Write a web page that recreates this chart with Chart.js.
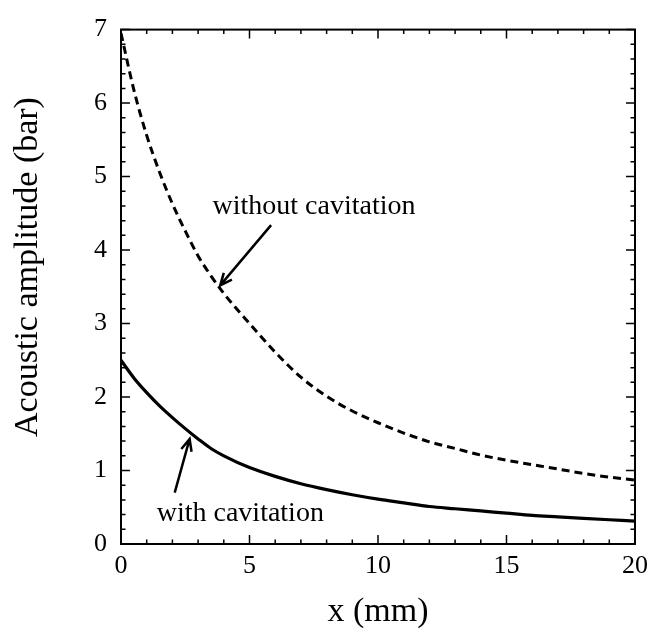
<!DOCTYPE html>
<html>
<head>
<meta charset="utf-8">
<script src="https://cdn.jsdelivr.net/npm/chart.js@4"></script>
<style>
	html, body { margin: 0; padding: 0; background: #fff; }
	#wrap { width: 655px; height: 632px; }
</style>
</head>
<body>
<div id="wrap"><canvas id="AmpChart" width="655" height="632"></canvas></div>
<script>
// x positions (mm)
var XPos = [0,0.5,1,1.5,2,2.5,3,3.5,4,5,6,7,8,9,10,11,12,13,14,15,16,17,18,19,20];
// acoustic amplitude (bar)
var WithoutCav = [6.95,6.18,5.56,5.06,4.63,4.26,3.92,3.65,3.41,3.0,2.61,2.27,2.01,1.81,1.65,1.51,1.39,1.3,1.21,1.14,1.08,1.02,0.96,0.91,0.87];
var WithCav = [2.5,2.26,2.06,1.88,1.72,1.57,1.43,1.3,1.2,1.04,0.92,0.82,0.74,0.67,0.61,0.56,0.51,0.48,0.45,0.42,0.39,0.37,0.35,0.33,0.31];

var XTicks = [0,5,10,15,20];
var YTicks = [0,1,2,3,4,5,6,7];

var SerifFont = "'Liberation Serif', 'Times New Roman', serif";

function toPoints(ys){
	var pts = [];
	for(let i=0; i<XPos.length; i++) pts.push({x: XPos[i], y: ys[i]});
	return pts;
}

function drawArrow(ctx, x1, y1, x2, y2){
	var ang = Math.atan2(y2-y1, x2-x1);
	var L = 13, a = 0.42;
	ctx.beginPath();
	ctx.moveTo(x1, y1); ctx.lineTo(x2, y2);
	ctx.moveTo(x2 - L*Math.cos(ang-a), y2 - L*Math.sin(ang-a));
	ctx.lineTo(x2, y2);
	ctx.lineTo(x2 - L*Math.cos(ang+a), y2 - L*Math.sin(ang+a));
	ctx.stroke();
}

// frame, inside ticks, labels, arrows
var decoPlugin = {
	id: 'deco',
	afterDraw(chart){
		var ctx = chart.ctx;
		var ca = chart.chartArea;
		var sx = chart.scales.x, sy = chart.scales.y;
		ctx.save();
		ctx.strokeStyle = '#000';
		ctx.lineWidth = 1.5;
		ctx.beginPath();
		for(let v=0; v<=20; v++){
			let px = sx.getPixelForValue(v);
			let L = (v % 5 == 0) ? 9 : 4.5;
			ctx.moveTo(px, ca.bottom); ctx.lineTo(px, ca.bottom - L);
			ctx.moveTo(px, ca.top); ctx.lineTo(px, ca.top + L);
		}
		for(let i=0; i<=35; i++){
			let py = sy.getPixelForValue(i*0.2);
			let L = (i % 5 == 0) ? 9 : 4.5;
			ctx.moveTo(ca.left, py); ctx.lineTo(ca.left + L, py);
			ctx.moveTo(ca.right, py); ctx.lineTo(ca.right - L, py);
		}
		ctx.stroke();
		ctx.lineWidth = 2;
		ctx.strokeRect(ca.left, ca.top, ca.right - ca.left, ca.bottom - ca.top);

		// annotations
		ctx.fillStyle = '#000';
		ctx.font = "28px " + SerifFont;
		ctx.textAlign = 'left';
		ctx.textBaseline = 'alphabetic';
		ctx.fillText('without cavitation', sx.getPixelForValue(3.56), sy.getPixelForValue(4.49));
		ctx.fillText('with cavitation', sx.getPixelForValue(1.39), sy.getPixelForValue(0.31));

		ctx.lineWidth = 2.5;
		drawArrow(ctx, sx.getPixelForValue(5.84), sy.getPixelForValue(4.34), sx.getPixelForValue(3.86), sy.getPixelForValue(3.52));
		drawArrow(ctx, sx.getPixelForValue(2.09), sy.getPixelForValue(0.70), sx.getPixelForValue(2.67), sy.getPixelForValue(1.43));

		// y axis title
		ctx.font = "34px " + SerifFont;
		ctx.textAlign = 'center';
		ctx.translate(37, 267);
		ctx.rotate(-Math.PI/2);
		ctx.fillText('Acoustic amplitude (bar)', 0, 0);
		ctx.restore();
	}
};

new Chart(document.getElementById('AmpChart'), {
	type: 'line',
	data: {
		datasets: [{
			label: 'without cavitation',
			data: toPoints(WithoutCav),
			borderColor: '#000',
			borderWidth: 3,
			borderDash: [8,5],
			pointRadius: 0,
			cubicInterpolationMode: 'monotone',
			fill: false
		},{
			label: 'with cavitation',
			data: toPoints(WithCav),
			borderColor: '#000',
			borderWidth: 3.2,
			pointRadius: 0,
			cubicInterpolationMode: 'monotone',
			fill: false
		}]
	},
	options: {
		responsive: false,
		animation: false,
		layout: { padding: { left: 0, right: 17, top: 26, bottom: 0 } },
		plugins: { legend: { display: false }, tooltip: { enabled: false } },
		scales: {
			x: {
				type: 'linear',
				min: 0, max: 20,
				afterBuildTicks: function(scale){ scale.ticks = XTicks.map(v => ({value: v})); },
				afterFit: function(scale){ scale.height = 88; },
				grid: { display: false, drawTicks: false },
				border: { display: false },
				ticks: { color: '#000', padding: 7, maxRotation: 0, font: { family: SerifFont, size: 26 } },
				title: { display: true, text: 'x (mm)', color: '#000', padding: 0, font: { family: SerifFont, size: 34, lineHeight: 1.2 } }
			},
			y: {
				type: 'linear',
				min: 0, max: 7,
				afterBuildTicks: function(scale){ scale.ticks = YTicks.map(v => ({value: v})); },
				afterFit: function(scale){ scale.width = 121; },
				grid: { display: false, drawTicks: false },
				border: { display: false },
				ticks: { color: '#000', padding: 14, font: { family: SerifFont, size: 26 } }
			}
		}
	},
	plugins: [decoPlugin]
});
</script>
</body>
</html>
